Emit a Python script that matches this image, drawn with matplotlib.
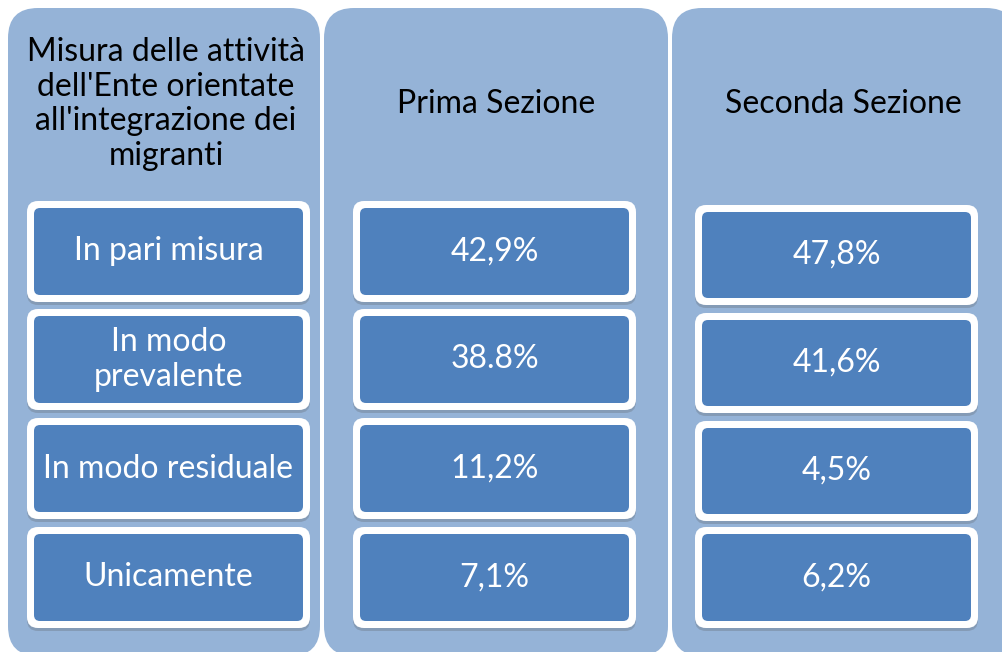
import matplotlib
matplotlib.use("Agg")
import matplotlib.pyplot as plt
from matplotlib.patches import FancyBboxPatch

# Data
header = "Misura delle attività\ndell'Ente orientate\nall'integrazione dei\nmigranti"
categories = ["In pari misura", "In modo\nprevalente", "In modo residuale", "Unicamente"]
sections = ["Prima Sezione", "Seconda Sezione"]
prima = ["42,9%", "38.8%", "11,2%", "7,1%"]
seconda = ["47,8%", "41,6%", "4,5%", "6,2%"]

panel_color = "#95B3D7"
box_color = "#4F81BD"
font = "Lato"
fs = 23

fig = plt.figure(figsize=(10.03, 6.52), dpi=100)
ax = fig.add_axes([0, 0, 1, 1])
ax.set_xlim(0, 1003)
ax.set_ylim(652, 0)
ax.axis("off")

# panels: (left, right), top 8, bottom 656
panels = [(8, 320), (324, 668), (672, 1016)]
r = 30
for x0, x1 in panels:
    ax.add_patch(FancyBboxPatch((x0 + r, 8 + r), x1 - x0 - 2 * r, 656 - 8 - 2 * r,
                                boxstyle="round,pad=%d" % r, fc=panel_color, ec="none"))

# row boxes (top, bottom) for each panel
rows_a = [(201, 302), (309, 410), (418, 519), (527, 628)]
rows_b = [(205, 305), (313, 413), (421, 521), (527, 628)]
cols = [(27, 310, rows_a, categories),
        (353, 636, rows_a, prima),
        (695, 978, rows_b, seconda)]


def box(x0, x1, y0, y1, label):
    # shadow
    ax.add_patch(FancyBboxPatch((x0 + 8, y0 + 11), x1 - x0 - 16, y1 - y0 - 16,
                                boxstyle="round,pad=8,rounding_size=11",
                                fc="#555555", ec="none", alpha=0.25))
    ax.add_patch(FancyBboxPatch((x0 + 8, y0 + 8), x1 - x0 - 16, y1 - y0 - 16,
                                boxstyle="round,pad=8,rounding_size=11",
                                fc="white", ec="none"))
    ax.add_patch(FancyBboxPatch((x0 + 13, y0 + 13), x1 - x0 - 26, y1 - y0 - 26,
                                boxstyle="round,pad=6,rounding_size=6",
                                fc=box_color, ec="none"))
    ax.text((x0 + x1) / 2, (y0 + y1) / 2, label, ha="center", va="center",
            color="white", fontsize=fs, family=font, linespacing=1.2)


for x0, x1, rows, labels in cols:
    for (y0, y1), lab in zip(rows, labels):
        box(x0, x1, y0, y1, lab)

ax.text(166, 104, header, ha="center", va="center", fontsize=fs,
        family=font, color="black", linespacing=1.2)
ax.text(496, 104, sections[0], ha="center", va="center", fontsize=fs,
        family=font, color="black")
ax.text(843, 104, sections[1], ha="center", va="center", fontsize=fs,
        family=font, color="black")

fig.savefig("out.png", dpi=100)
